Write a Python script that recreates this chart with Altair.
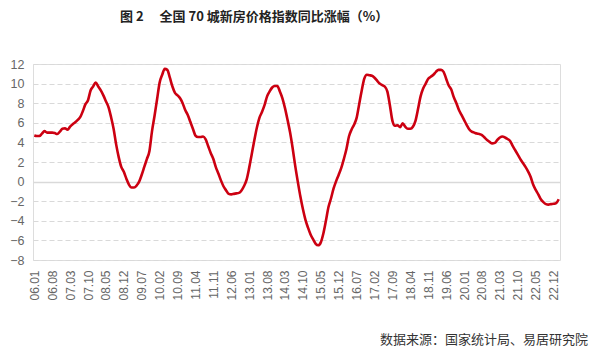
import altair as alt
import pandas as pd

title_text = "图\u00a02\u3000\u00a0全国\u00a070\u00a0城新房价格指数同比涨幅（%）"
source_text = "数据来源：国家统计局、易居研究院"

months = [f"{y:02d}.{m:02d}" for y in range(6, 24) for m in range(1, 13)][:206]

tick_labels = ["06.01", "06.08", "07.03", "07.10", "08.05", "08.12", "09.07",
               "10.02", "10.09", "11.04", "11.11", "12.06", "13.01", "13.08",
               "14.03", "14.10", "15.05", "15.12", "16.07", "17.02", "17.09",
               "18.04", "18.11", "19.06", "20.01", "20.08", "21.03", "21.10",
               "22.05", "22.12"]

yoy = [
    4.7, 4.65, 4.65, 4.9, 5.15, 5.0, 5.0, 5.0, 4.95, 4.85,
    5.1, 5.4, 5.45, 5.3, 5.6, 5.85, 6.05, 6.3, 6.6, 7.2,
    7.9, 8.3, 9.3, 9.7, 10.1, 9.7, 9.3, 8.8, 8.2, 7.6,
    6.6, 5.4, 3.8, 2.5, 1.5, 1.0, 0.3, -0.3, -0.6, -0.6,
    -0.4, 0.0, 0.7, 1.5, 2.3, 3.1, 5.1, 6.7, 8.4, 10.1,
    10.9, 11.5, 11.4, 10.6, 9.7, 9.05, 8.8, 8.5, 8.0, 7.3,
    6.8, 6.1, 5.4, 4.7, 4.55, 4.55, 4.6, 4.3, 3.6, 2.9,
    2.3, 1.45, 0.8, 0.1, -0.5, -0.9, -1.25, -1.3, -1.25, -1.2,
    -1.15, -0.9, -0.45, 0.2, 1.4, 2.8, 4.2, 5.5, 6.5, 7.1,
    7.8, 8.7, 9.2, 9.6, 9.75, 9.75, 9.2, 8.5, 7.5, 6.3,
    5.0, 3.4, 1.6, 0.0, -1.5, -2.8, -3.9, -4.7, -5.4, -5.9,
    -6.35, -6.5, -6.2, -5.3, -4.0, -2.6, -1.7, -0.7, 0.05, 0.7,
    1.4, 2.3, 3.3, 4.6, 5.3, 5.8, 6.5, 7.9, 9.3, 10.5,
    10.9, 10.85, 10.8, 10.6, 10.3, 10.0, 9.85, 9.7, 9.2, 7.8,
    6.2, 5.7, 5.75, 5.55, 5.95, 5.6, 5.4, 5.4, 5.6, 6.2,
    7.4, 8.7, 9.5, 10.0, 10.5, 10.7, 10.9, 11.2, 11.4, 11.4,
    11.2, 10.5, 9.8, 9.4, 8.6, 8.0, 7.3, 6.8, 6.3, 5.8,
    5.35, 5.1, 5.0, 4.9, 4.85, 4.75, 4.5, 4.25, 4.05, 3.9,
    3.95, 4.25, 4.5, 4.6, 4.5, 4.35, 4.15, 3.65, 3.2, 2.75,
    2.3, 1.9, 1.5, 1.05, 0.5, -0.3, -0.85, -1.3, -1.8, -2.1,
    -2.3, -2.35, -2.3, -2.27, -2.2, -1.8,
]

y_ticks = [-8, -6, -4, -2, 0, 2, 4, 6, 8, 10, 12]

df = pd.DataFrame({"month": months, "yoy": yoy})

line = alt.Chart(df).mark_line(
    color="#CC0011", strokeWidth=2.6, interpolate="monotone"
).encode(
    x=alt.X("month:O", sort=months,
            scale=alt.Scale(type="point", padding=0.5),
            axis=alt.Axis(values=tick_labels, labelAngle=-90, title=None,
                          domain=False, ticks=False, grid=False,
                          labelColor="#666666", labelFont="Liberation Sans",
                          labelFontSize=12, labelPadding=10)),
    y=alt.Y("yoy:Q", scale=alt.Scale(domain=[-8, 12], nice=False),
            axis=alt.Axis(values=y_ticks, title=None, domain=False, ticks=False,
                          grid=True, gridColor="#D9D9D9",
                          gridDash={"condition": {"test": "datum.value === 0", "value": []},
                                    "value": [5, 3]},
                          gridWidth={"condition": {"test": "datum.value === 0", "value": 1.5},
                                     "value": 1},
                          labelColor="#666666", labelFont="Liberation Sans",
                          labelFontSize=12.5, labelPadding=9)),
)

title = alt.Chart(pd.DataFrame({"t": [title_text]})).mark_text(
    align="left", baseline="middle", font="Noto Sans CJK SC", fontSize=13,
    fontWeight="bold", color="#222222"
).encode(text="t:N", x=alt.value(87), y=alt.value(-47))

source = alt.Chart(pd.DataFrame({"t": [source_text]})).mark_text(
    align="right", baseline="middle", font="Noto Sans CJK SC", fontSize=13,
    color="#333333"
).encode(text="t:N", x=alt.value(555), y=alt.value(276))

chart = alt.layer(line, title, source).properties(
    width=527, height=196,
    autosize=alt.AutoSizeParams(type="none"),
    padding={"left": 33, "top": 64, "right": 40, "bottom": 97},
).configure_view(stroke=None).configure(background="white")

chart.save("out.html", embed_options={"renderer": "svg", "actions": False})
